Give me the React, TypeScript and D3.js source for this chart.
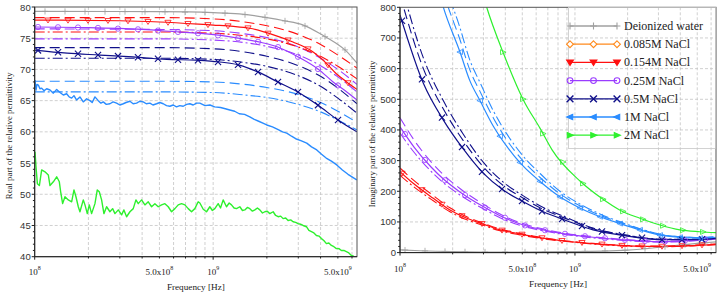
import React from "react";
import * as d3 from "d3";

// all frequencies in MHz

const xTickFreqs = [100, 500, 1000, 5000];
const xTickMantissas = ["", "5.0x", "", "5.0x"];
const xTickExponents = ["8", "8", "9", "9"];
const realTicks = [40, 45, 50, 55, 60, 65, 70, 75, 80];
const imagTicks = [0, 100, 200, 300, 400, 500, 600, 700, 800];

const legendLabels = [
  "Deionized water",
  "0.085M NaCl",
  "0.154M NaCl",
  "0.25M NaCl",
  "0.5M NaCl",
  "1M NaCl",
  "2M NaCl",
];

// ---- real part: measured ----
const reWater = [[100, 79.3], [500, 79.25], [1000, 79.1], [1400, 78.9], [2000, 78.3], [2500, 77.8], [3200, 77.1], [4100, 75.5], [5000, 74.0], [5500, 73.1], [6400, 71.0]];
const reRed = [[100, 77.9], [300, 77.8], [500, 77.6], [1000, 77.1], [1300, 76.9], [1600, 76.6], [2200, 75.5], [2800, 74.4], [3500, 73.1], [4300, 71.0], [4900, 69.3], [5600, 68.0], [6400, 66.8]];
const rePurple = [[100, 76.8], [200, 76.7], [400, 76.4], [640, 76.0], [820, 75.8], [1200, 75.3], [1800, 74.4], [2300, 73.6], [3000, 72.0], [3900, 70.0], [4700, 68.0], [5500, 66.6], [6400, 65.1]];
const reNavy = [[100, 73.1], [152, 72.6], [232, 72.3], [355, 72.0], [550, 71.6], [800, 71.5], [1000, 71.3], [1400, 70.7], [1780, 69.6], [2300, 68.0], [2980, 66.4], [3860, 64.3], [5000, 61.9], [6400, 60.0]];
const reBlue = [
  [100.4, 68.3], [101.7, 66.7], [103, 67.6], [104.8, 67.5], [107, 66.9], [109.4, 67.0], [113, 66.6], [116.7, 66.9],
  [121.8, 66.7], [127.2, 66.2], [132.8, 66.8], [138.6, 66.3], [144.7, 65.9], [151, 66.1], [156, 65.6], [161.1, 65.4],
  [166, 65.8], [171.8, 65.1], [179.3, 65.6], [187.2, 64.8], [195.4, 65.3], [204, 65.0], [210, 64.7], [217.6, 65.6],
  [227.1, 65.0], [235, 64.6], [242.2, 64.8], [252, 64.4], [264, 64.5], [275, 64.8], [287.7, 64.6], [300, 64.3],
  [313.5, 64.5], [325, 64.7], [341.7, 64.9], [356, 64.5], [372.4, 64.6], [388, 64.9], [405.8, 64.8], [422, 64.5],
  [442.2, 64.6], [460, 64.3], [481.9, 64.5], [503, 64.7], [525.3, 64.5], [548, 64.2], [572.2, 64.1], [597, 64.3],
  [623.5, 64.0], [650, 64.2], [679.6, 64.1], [710, 64.4], [740.4, 64.5], [773, 64.3], [807, 64.6], [842, 64.6],
  [900, 64.2], [960, 64.3], [1020, 64.0], [1100, 63.9], [1170, 63.7], [1240, 63.5], [1320, 63.3], [1400, 62.9],
  [1500, 62.8], [1605, 62.4], [1700, 62.0], [1800, 61.7], [1900, 61.4], [1998, 61.1], [2150, 60.8], [2300, 60.4],
  [2450, 60.0], [2586, 59.8], [2750, 59.3], [2900, 58.9], [3100, 58.6], [3346, 58.2], [3560, 57.6], [3808, 57.1],
  [4050, 56.4], [4300, 55.8], [4600, 55.3], [4929, 54.7], [5300, 53.9], [5700, 53.2], [6000, 52.8], [6378, 52.3],
];
const reGreen = [
  [100.4, 56.8], [101.7, 54.4], [103.5, 51.7], [106.2, 51.4], [109.4, 53.9], [114.2, 53.6], [119.2, 53.1], [121.8, 51.4],
  [127.2, 52.0], [132.8, 52.8], [137.4, 52.0], [139.8, 50.4], [143.4, 48.5], [147.8, 49.6], [154.3, 49.1], [161.1, 48.8],
  [166, 50.7], [170.3, 49.6], [175.5, 48.0], [179.3, 47.2], [187.2, 49.1], [191.3, 48.3], [197.1, 46.9], [202.3, 48.3],
  [208.4, 46.9], [217.6, 48.5], [224.2, 50.7], [230.1, 50.4], [237.1, 49.1], [244.3, 46.9], [252.9, 48.0], [264, 47.2],
  [273.3, 47.7], [281.7, 46.9], [294.1, 47.5], [306.9, 46.7], [316.2, 47.5], [327.3, 46.4], [341.7, 47.2], [356.7, 47.7],
  [369.2, 49.1], [380.4, 48.5], [397.2, 49.1], [414.6, 48.3], [432.8, 48.8], [451.8, 48.0], [471.6, 48.5], [492.3, 48.0],
  [514, 48.3], [536.6, 48.5], [560.1, 48.0], [584.7, 47.2], [610.4, 47.7], [637.2, 48.3], [665.2, 48.5], [694.4, 48.3],
  [724.9, 47.7], [756.7, 47.2], [789.8, 47.7], [824.6, 48.8], [842.5, 48.6], [880, 47.6], [918.2, 47.2], [958.3, 48.0],
  [990, 47.4], [1022, 47.7], [1067, 48.5], [1100, 47.8], [1138, 49.1], [1188, 48.0], [1230, 48.6], [1267, 48.3],
  [1310, 47.8], [1352, 47.7], [1411, 48.0], [1460, 47.4], [1505, 47.5], [1555, 47.9], [1606, 47.7], [1660, 47.3],
  [1713, 47.5], [1770, 47.8], [1826, 47.5], [1890, 47.0], [1948, 47.2], [2010, 47.3], [2078, 46.9], [2169, 47.2],
  [2240, 46.6], [2313, 46.4], [2390, 46.5], [2467, 46.1], [2550, 46.2], [2631, 45.8], [2720, 45.9], [2806, 45.6],
  [2900, 45.5], [2993, 45.3], [3090, 45.2], [3192, 45.0], [3333, 44.8], [3440, 44.2], [3554, 44.0], [3670, 43.8],
  [3791, 43.4], [3920, 43.3], [4044, 42.9], [4170, 42.6], [4313, 42.1], [4450, 42.2], [4600, 41.8], [4750, 41.6],
  [4906, 41.3], [5070, 41.3], [5233, 41.0], [5400, 41.0], [5581, 40.8], [5760, 40.6], [5953, 40.2], [6136, 40.1],
];

// ---- real part: model curves ----
const reModelF = [100, 500, 1000, 1500, 2000, 3000, 4000, 5000, 6400];
const reRedDash = [78.3, 78.3, 78.1, 77.6, 77.0, 75.6, 74.0, 72.3, 70.2];
const reRedDot = [76.0, 76.0, 75.8, 75.4, 74.9, 73.6, 72.1, 70.5, 68.5];
const rePurpleDash = [76.5, 76.4, 76.2, 75.7, 75.1, 73.6, 71.8, 70.0, 67.6];
const rePurpleDot = [74.9, 74.9, 74.7, 74.3, 73.7, 72.3, 70.6, 68.8, 66.4];
const reNavyDash = [73.5, 73.5, 73.3, 72.8, 72.1, 70.6, 68.9, 67.0, 64.5];
const reNavyDot = [71.8, 71.8, 71.6, 71.1, 70.5, 69.0, 67.3, 65.4, 63.0];
const reBlueDash = [68.1, 68.1, 68.0, 67.6, 67.1, 66.0, 64.7, 63.3, 61.5];
const reBlueDot = [66.4, 66.4, 66.3, 65.9, 65.5, 64.4, 63.2, 61.9, 60.3];

// ---- imaginary part ----
const imWaterF = [100, 130, 200, 300, 500, 1000, 2000, 3000, 3600, 5000, 6400];
const imWater = [9, 6, 3, 2, 2, 3, 8, 17, 22, 30, 35];
const imRedF = [100, 119, 155, 193, 241, 299, 373, 464, 578, 720, 897, 1270, 1980, 3060, 4720, 6400];
const imRed = [264, 226, 177, 139, 112, 93, 74, 63, 52, 44, 37, 29, 22, 20, 23, 27];
const imRedDash = [276, 237, 186, 146, 117, 96, 77, 65, 54, 45, 38, 30, 23, 21, 24, 28];
const imRedDot = [252, 216, 169, 133, 107, 89, 71, 60, 50, 42, 36, 28, 21, 19, 22, 26];
const imPurpleF = [100, 120, 150, 177, 220, 299, 373, 507, 659, 856, 1270, 1980, 3060, 4720, 6400];
const imPurple = [410, 345, 280, 240, 198, 150, 120, 90, 74, 62, 50, 41, 36, 40, 46];
const imPurpleDash = [440, 368, 297, 254, 209, 158, 126, 94, 77, 64, 52, 42, 37, 41, 47];
const imPurpleDot = [390, 328, 266, 228, 188, 143, 114, 86, 71, 60, 48, 39, 34, 38, 44];
const imNavyF = [100, 136, 177, 230, 299, 389, 507, 659, 897, 1270, 1980, 3060, 4720, 6400];
const imNavy = [775, 552, 432, 338, 259, 204, 166, 133, 104, 74, 54, 42, 42, 46];
const imNavyDash = [840, 600, 468, 365, 280, 219, 177, 141, 110, 78, 56, 43, 43, 47];
const imNavyDot = [890, 635, 495, 386, 295, 230, 185, 147, 114, 80, 57, 44, 43, 47];
const imBlueF = [160, 177, 220, 251, 287, 341, 407, 500, 632, 820, 1080, 1390, 1800, 2350, 3060, 3980, 5180, 6400];
const imBlue = [890, 800, 655, 560, 495, 413, 347, 285, 232, 182, 144, 117, 95, 74, 57, 50, 47, 50];
const imBlueDash = [945, 850, 695, 595, 525, 440, 368, 302, 245, 192, 151, 122, 99, 77, 59, 52, 49, 52];
const imBlueDot = [995, 896, 734, 627, 554, 463, 388, 318, 258, 200, 157, 126, 101, 78, 60, 52, 49, 51];
const imGreenF = [290, 313, 390, 507, 632, 740, 1080, 1420, 1800, 2350, 3060, 3980, 5180, 6400];
const imGreen = [865, 800, 650, 498, 405, 335, 231, 177, 139, 112, 90, 74, 68, 65];

const GREY = "#a0a0a0";
const ORANGE = "#ff8a1c";
const RED = "#ff1010";
const PURPLE = "#9a3cff";
const NAVY = "#10108a";
const BLUE = "#2a8cff";
const GREEN = "#2ef02e";
const DASH = "10,5";
const DASHDOT = "10,3,2,3";

const zip = (f: number[], v: number[]) => f.map((d, i) => [d, v[i]]);

const leftX = d3.scaleLog().domain([100, 6400]).range([34.7, 357]);
const leftY = d3.scaleLinear().domain([40, 80]).range([256.7, 7]);
const rightX = d3.scaleLog().domain([100, 6400]).range([400, 716]);
const rightY = d3.scaleLinear().domain([0, 800]).range([252.6, 7.3]);

const leftSeries = [
  { data: zip(reModelF, reBlueDot), color: BLUE, dash: DASHDOT },
  { data: zip(reModelF, reBlueDash), color: BLUE, dash: DASH },
  { data: zip(reModelF, reNavyDot), color: NAVY, dash: DASHDOT },
  { data: zip(reModelF, reNavyDash), color: NAVY, dash: DASH },
  { data: zip(reModelF, rePurpleDot), color: PURPLE, dash: DASHDOT },
  { data: zip(reModelF, rePurpleDash), color: PURPLE, dash: DASH },
  { data: zip(reModelF, reRedDot), color: RED, dash: DASHDOT },
  { data: zip(reModelF, reRedDash), color: RED, dash: DASH },
  { data: reGreen, color: GREEN, noisy: true },
  { data: reBlue, color: BLUE, noisy: true },
  { data: reNavy, color: NAVY, marker: "cross", m0: 38 },
  { data: rePurple, color: PURPLE, marker: "circle", m0: 38 },
  { data: reRed, color: RED, marker: "down", m0: 48 },
  { data: reWater, color: GREY, marker: "plus", m0: 45 },
];

const rightSeries = [
  { data: zip(imWaterF, imWater), color: GREY, marker: "plus", m0: 405 },
  { data: zip(imRedF, imRedDash), color: RED, dash: DASH },
  { data: zip(imRedF, imRedDot), color: RED, dash: DASHDOT },
  { data: zip(imRedF, imRed), color: RED, marker: "down", m0: 402 },
  { data: zip(imPurpleF, imPurpleDash), color: PURPLE, dash: DASH },
  { data: zip(imPurpleF, imPurpleDot), color: PURPLE, dash: DASHDOT },
  { data: zip(imPurpleF, imPurple), color: PURPLE, marker: "circle", m0: 405 },
  { data: zip(imNavyF, imNavyDash), color: NAVY, dash: DASH },
  { data: zip(imNavyF, imNavyDot), color: NAVY, dash: DASHDOT },
  { data: zip(imNavyF, imNavy), color: NAVY, marker: "cross", m0: 402 },
  { data: zip(imBlueF, imBlueDash), color: BLUE, dash: DASH },
  { data: zip(imBlueF, imBlueDot), color: BLUE, dash: DASHDOT },
  { data: zip(imBlueF, imBlue), color: BLUE, marker: "left", m0: 460 },
  { data: zip(imGreenF, imGreen), color: GREEN, marker: "right", m0: 503 },
];

const legendStyles = [
  { color: GREY, marker: "plus", fill: false },
  { color: ORANGE, marker: "diamond", fill: false },
  { color: RED, marker: "down", fill: true },
  { color: PURPLE, marker: "circle", fill: false },
  { color: NAVY, marker: "cross", fill: false },
  { color: BLUE, marker: "left", fill: true },
  { color: GREEN, marker: "right", fill: true },
];

function Sym({ kind, cx, cy, color, fill = false, r = 3.5, sw = 0.9 }: any) {
  const f = fill ? color : "white";
  if (kind === "plus")
    return <path d={`M${cx - r},${cy}H${cx + r}M${cx},${cy - r}V${cy + r}`} stroke={color} strokeWidth={sw} fill="none" />;
  if (kind === "cross")
    return <path d={`M${cx - r},${cy - r}L${cx + r},${cy + r}M${cx + r},${cy - r}L${cx - r},${cy + r}`} stroke={color} strokeWidth={sw + 0.3} fill="none" />;
  if (kind === "circle") return <circle cx={cx} cy={cy} r={r * 0.85} stroke={color} strokeWidth={sw} fill={fill ? color : "none"} />;
  if (kind === "diamond")
    return <path d={`M${cx},${cy - r}L${cx + r},${cy}L${cx},${cy + r}L${cx - r},${cy}Z`} stroke={color} strokeWidth={sw} fill={f} />;
  if (kind === "down")
    return <path d={`M${cx - r},${cy - r * 0.7}L${cx + r},${cy - r * 0.7}L${cx},${cy + r * 0.9}Z`} stroke={color} strokeWidth={sw} fill={fill ? color : "none"} />;
  if (kind === "left")
    return <path d={`M${cx - r},${cy}L${cx + r * 0.8},${cy - r * 0.8}L${cx + r * 0.8},${cy + r * 0.8}Z`} stroke={color} strokeWidth={sw} fill={fill ? color : "none"} />;
  return <path d={`M${cx + r},${cy}L${cx - r * 0.8},${cy - r * 0.8}L${cx - r * 0.8},${cy + r * 0.8}Z`} stroke={color} strokeWidth={sw} fill={fill ? color : "none"} />;
}

// marker spots placed along the drawn line, every `step` px in x
function markerSpots(pts: number[][], start: number, step: number) {
  const out: number[][] = [];
  for (let x = start; x <= pts[pts.length - 1][0]; x += step) {
    if (x < pts[0][0]) continue;
    for (let i = 1; i < pts.length; i++) {
      if (x <= pts[i][0]) {
        const t = (x - pts[i - 1][0]) / (pts[i][0] - pts[i - 1][0]);
        out.push([x, pts[i - 1][1] + t * (pts[i][1] - pts[i - 1][1])]);
        break;
      }
    }
  }
  return out;
}

function Panel({ x, y, yTicks, yMinor, series, id, yTitle, yTitleX, tickLabelY, freqY }: any) {
  const [x0, x1] = x.range();
  const [yb, yt] = y.range();
  const gridF: number[] = [];
  [100, 1000].forEach((d) => d3.range(1, 10).forEach((k) => gridF.push(k * d)));
  const xs = gridF.filter((f) => f > 100 && f < 6400);
  const [ymin, ymax] = y.domain();
  const minors = d3.range(ymin, ymax + 0.001, yMinor);
  const grid = "#c4c4c4";
  const serif = "'Liberation Serif', 'Times New Roman', serif";
  const sans = "'Liberation Sans', Arial, sans-serif";

  return (
    <g>
      <defs>
        <clipPath id={id}>
          <rect x={x0} y={yt} width={x1 - x0} height={yb - yt} />
        </clipPath>
      </defs>
      {xs.map((f) => (
        <line key={"gx" + f} x1={x(f)} x2={x(f)} y1={yt} y2={yb} stroke={grid} strokeDasharray="3,2" strokeWidth={0.8} />
      ))}
      {yTicks.slice(1, -1).map((v: number) => (
        <line key={"gy" + v} x1={x0} x2={x1} y1={y(v)} y2={y(v)} stroke={grid} strokeDasharray="3,2" strokeWidth={0.8} />
      ))}
      <g clipPath={`url(#${id})`}>
        {series.map((s: any, i: number) => {
          const line = d3
            .line<any>()
            .x((d) => x(d[0]))
            .y((d) => y(d[1]))
            .curve(s.noisy ? d3.curveLinear : d3.curveMonotoneX);
          return (
            <path
              key={"s" + i}
              d={line(s.data) || ""}
              fill="none"
              stroke={s.color}
              strokeWidth={s.dash ? 1.1 : s.noisy ? 1.4 : 1.2}
              strokeLinejoin="round"
              strokeDasharray={s.dash}
            />
          );
        })}
        {series
          .filter((s: any) => s.marker)
          .map((s: any, i: number) => {
            const pts = s.data.map((d: number[]) => [x(d[0]), y(d[1])]);
            return markerSpots(pts, s.m0, 20)
              .filter((p) => p[1] >= yt - 2)
              .map((p, j) => <Sym key={`m${i}-${j}`} kind={s.marker} cx={p[0]} cy={p[1]} color={s.color} r={3.1} sw={0.8} />);
          })}
      </g>
      <rect x={x0} y={yt} width={x1 - x0} height={yb - yt} fill="none" stroke="#555" strokeWidth={1} />
      <line x1={x0} x2={x0} y1={yt} y2={yb} stroke="#222" />
      <line x1={x0} x2={x1} y1={yb} y2={yb} stroke="#222" />
      {minors.map((v: number) => (
        <line key={"ym" + v} x1={x0 - (yTicks.includes(v) ? 3 : 1.8)} x2={x0} y1={y(v)} y2={y(v)} stroke="#222" />
      ))}
      {yTicks.map((v: number) => (
        <text key={"yl" + v} x={x0 - 4} y={y(v)} textAnchor="end" dominantBaseline="central" fontFamily={sans} fontSize={9.5} fill="#333">
          {v}
        </text>
      ))}
      {xs.concat([100]).map((f) => (
        <line key={"xm" + f} x1={x(f)} x2={x(f)} y1={yb} y2={yb + (f === 1000 || f === 100 ? 3 : 1.8)} stroke="#222" />
      ))}
      {xTickFreqs.map((f, i) => (
        <text key={"xl" + f} x={x(f)} y={tickLabelY} textAnchor="middle" fontFamily={serif} fontSize={9} fill="#222">
          {xTickMantissas[i]}10
          <tspan dy={-5} fontSize={6}>
            {xTickExponents[i]}
          </tspan>
        </text>
      ))}
      <text x={(x0 + x1) / 2} y={freqY} textAnchor="middle" fontFamily={serif} fontSize={9.2} fill="#222">
        Frequency [Hz]
      </text>
      <text
        transform={`translate(${yTitleX},${(yt + yb) / 2 + 4}) rotate(-90)`}
        textAnchor="middle"
        fontFamily={serif}
        fontSize={8.8}
        fill="#222"
      >
        {yTitle}
      </text>
    </g>
  );
}

function Legend() {
  const serif = "'Liberation Serif', 'Times New Roman', serif";
  const lx0 = 570;
  const lx1 = 617;
  return (
    <g>
      <rect x={568.5} y={7.5} width={147} height={141} fill="none" stroke="#c8c8c8" strokeWidth={0.8} />
      {legendLabels.map((name, i) => {
        const st = legendStyles[i];
        const yy = 26 + i * 18.2;
        return (
          <g key={name}>
            <line x1={lx0} x2={lx1} y1={yy} y2={yy} stroke={st.color} strokeWidth={1.3} />
            {[lx0, (lx0 + lx1) / 2, lx1].map((mx) => (
              <Sym key={mx} kind={st.marker} cx={mx} cy={yy} color={st.color} fill={st.fill} r={3.4} sw={1.1} />
            ))}
            <text x={624} y={yy} dominantBaseline="central" fontFamily={serif} fontSize={12} fill="#222">
              {name}
            </text>
          </g>
        );
      })}
    </g>
  );
}

export default function App() {
  return (
    <svg width={721} height={297} style={{ position: "absolute", left: 0, top: 0, background: "white" }}>
      <rect width={721} height={297} fill="white" />
      <Panel
        x={leftX}
        y={leftY}
        yTicks={realTicks}
        yMinor={1}
        series={leftSeries}
        id="clipL"
        yTitle="Real part of the relative permittivity"
        yTitleX={12}
        tickLabelY={275}
        freqY={290}
      />
      <Panel
        x={rightX}
        y={rightY}
        yTicks={imagTicks}
        yMinor={20}
        series={rightSeries}
        id="clipR"
        yTitle="Imaginary part of the relative permittivity"
        yTitleX={375}
        tickLabelY={271.5}
        freqY={287}
      />
      <Legend />
    </svg>
  );
}
